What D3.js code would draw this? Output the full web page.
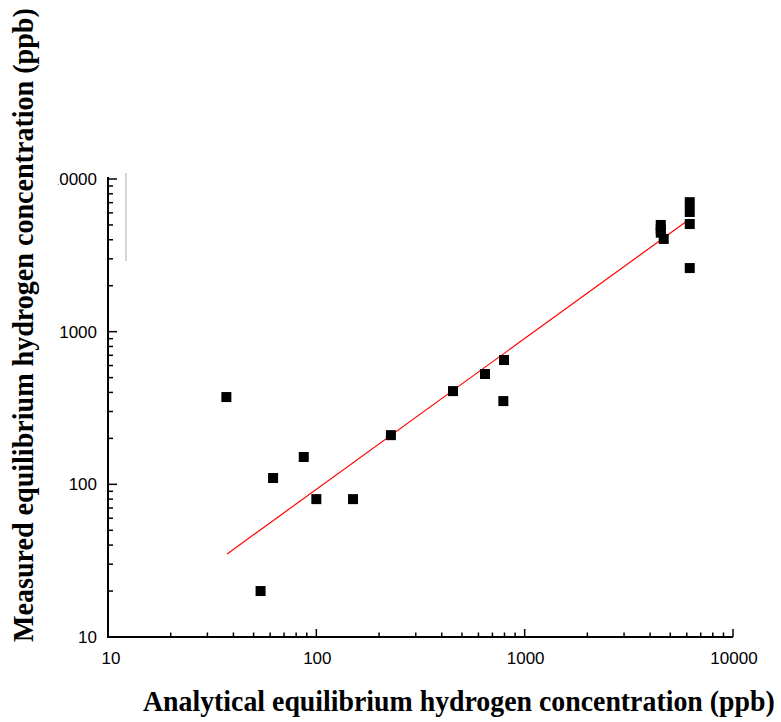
<!DOCTYPE html>
<html>
<head>
<meta charset="utf-8">
<script src="https://cdn.jsdelivr.net/npm/d3@7"></script>
<style>
  html, body { margin: 0; padding: 0; background: #fff; }
  svg { display: block; }
  .tick-lab { font-family: "Liberation Sans", Arial, Helvetica, sans-serif; font-size: 17px; }
  .title { font-family: "Liberation Serif", "Times New Roman", Times, serif; font-weight: bold; font-size: 30px; }
</style>
</head>
<body>
<svg id="chart" width="781" height="722"></svg>
<script>
// ---- data ----
const analytical = [37, 54, 62, 87, 100, 150, 228, 453, 645, 796, 790,
                    4500, 4500, 4500, 4650, 6200, 6200, 6200, 6200];
const measured   = [373, 20, 110, 151, 80, 80, 210, 408, 528, 652, 351,
                    5000, 4700, 4450, 4050, 7050, 6080, 5070, 2610];
const fitX = [37.3, 6200];
const fitY = [35, 5470];
const xTickValues = [10, 100, 1000, 10000];
const yTickValues = [10, 100, 1000, 10000];
const xTitle = "Analytical equilibrium hydrogen concentration (ppb)";
const yTitle = "Measured equilibrium hydrogen concentration (ppb)";

// ---- layout ----
const svg = d3.select("#chart");
const x = d3.scaleLog().domain([10, 10000]).range([108, 733]);
const y = d3.scaleLog().domain([10, 10000]).range([637, 179]);

const minorTicks = [];
for (let d = 10; d < 10000; d *= 10) for (let k = 2; k <= 9; k++) minorTicks.push(d * k);

svg.append("defs").append("clipPath").attr("id", "ylabclip")
  .append("rect").attr("x", 58).attr("y", 0).attr("width", 60).attr("height", 722);

// x axis
const gx = svg.append("g");
gx.append("line").attr("x1", x(10)).attr("x2", x(10000)).attr("y1", y(10)).attr("y2", y(10))
  .attr("stroke", "#000").attr("stroke-width", 2);
gx.selectAll("line.maj").data(xTickValues.slice(1)).join("line")
  .attr("x1", d => x(d)).attr("x2", d => x(d)).attr("y1", y(10)).attr("y2", y(10) - 8)
  .attr("stroke", "#000").attr("stroke-width", 1.5);
gx.selectAll("line.min").data(minorTicks).join("line")
  .attr("x1", d => x(d)).attr("x2", d => x(d)).attr("y1", y(10)).attr("y2", y(10) - 4.5)
  .attr("stroke", "#000").attr("stroke-width", 1.5);
gx.selectAll("text").data(xTickValues).join("text")
  .attr("class", "tick-lab")
  .attr("x", d => x(d) + (d === 10 ? 3 : 1)).attr("y", 664)
  .attr("text-anchor", "middle")
  .text(d => d);

// y axis
const gy = svg.append("g");
gy.append("line").attr("x1", x(10)).attr("x2", x(10)).attr("y1", y(10) + 1).attr("y2", y(10000) - 2)
  .attr("stroke", "#000").attr("stroke-width", 2);
gy.selectAll("line.maj").data(yTickValues.slice(1)).join("line")
  .attr("x1", x(10)).attr("x2", x(10) + 9).attr("y1", d => y(d)).attr("y2", d => y(d))
  .attr("stroke", "#000").attr("stroke-width", 1.5);
gy.selectAll("line.min").data(minorTicks).join("line")
  .attr("x1", x(10)).attr("x2", x(10) + 5).attr("y1", d => y(d)).attr("y2", d => y(d))
  .attr("stroke", "#000").attr("stroke-width", 1.5);
gy.selectAll("text").data(yTickValues).join("text")
  .attr("class", "tick-lab")
  .attr("x", 97).attr("y", d => y(d)).attr("dy", "0.35em")
  .attr("text-anchor", "end")
  .attr("clip-path", d => d === 10000 ? "url(#ylabclip)" : null)
  .text(d => d);

// stray gray frame line
svg.append("line").attr("x1", x(12.2)).attr("x2", x(12.2))
  .attr("y1", y(10000) - 6).attr("y2", y(2900))
  .attr("stroke", "#aaa").attr("stroke-width", 1);

// fit line
svg.append("line")
  .attr("x1", x(fitX[0])).attr("y1", y(fitY[0]))
  .attr("x2", x(fitX[1])).attr("y2", y(fitY[1]))
  .attr("stroke", "#ff0000").attr("stroke-width", 1.2);

// points
const pts = analytical.map((a, i) => ({ a, m: measured[i] }));
svg.selectAll("rect.pt").data(pts).join("rect")
  .attr("class", "pt")
  .attr("x", d => x(d.a) - 5).attr("y", d => y(d.m) - 5)
  .attr("width", 10).attr("height", 10).attr("fill", "#000");

// titles (condensed horizontally via a scale transform to the target length)
function condensedTitle(text, tx, ty, rot, target) {
  const g = svg.append("g").attr("transform", `translate(${tx},${ty}) rotate(${rot})`);
  const t = g.append("text").attr("class", "title").text(text);
  const w = t.node().getComputedTextLength();
  t.attr("transform", `scale(${target / w},1)`);
}
condensedTitle(xTitle, 143, 711, 0, 632);
condensedTitle(yTitle, 33, 642, -90, 634);
</script>
</body>
</html>
